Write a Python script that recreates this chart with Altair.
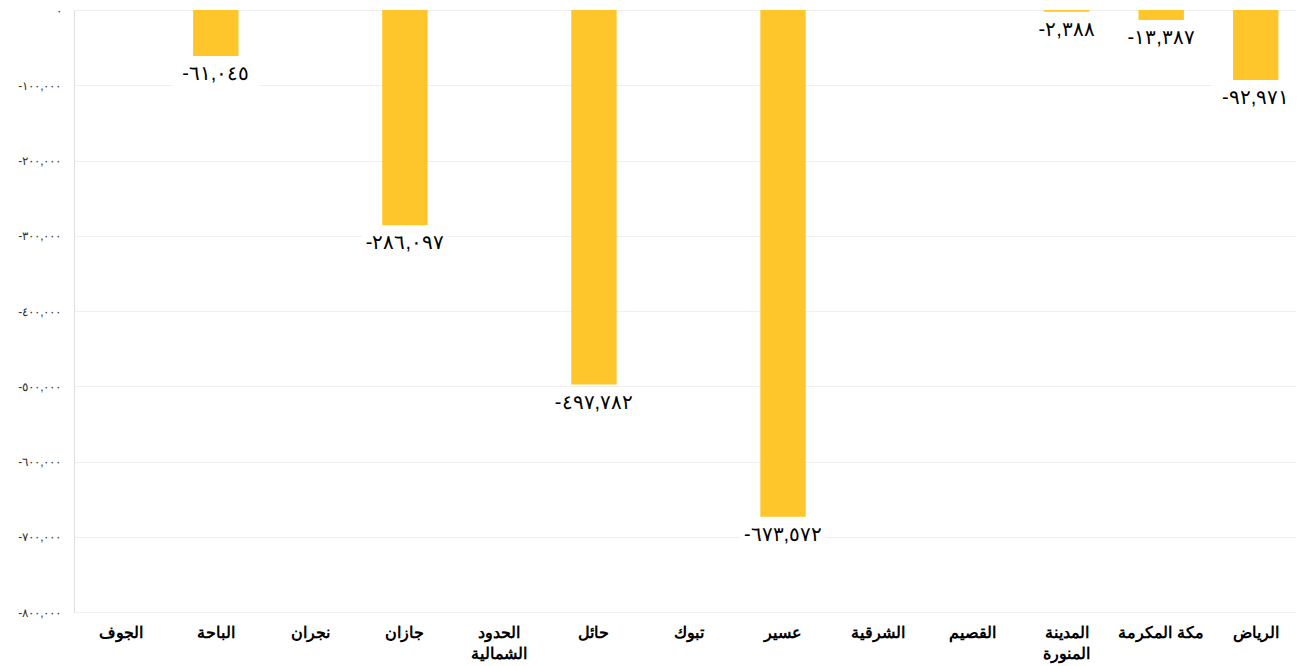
import altair as alt
import pandas as pd

regions = ["الجوف", "الباحة", "نجران", "جازان", "الحدود الشمالية", "حائل", "تبوك",
           "عسير", "الشرقية", "القصيم", "المدينة المنورة", "مكة المكرمة", "الرياض"]
values = [None, -61045, None, -286097, None, -497782, None,
          -673572, None, None, -2388, -13387, -92971]

df = pd.DataFrame({"region": regions, "value": values})

locale = {
    "decimal": "٫",
    "thousands": ",",
    "grouping": [3],
    "currency": ["", ""],
    "minus": "-",
    "numerals": ["٠", "١", "٢", "٣", "٤", "٥", "٦", "٧", "٨", "٩"],
}

label_expr = ("datum.label == 'الحدود الشمالية' ? ['الحدود', 'الشمالية'] : "
              "datum.label == 'المدينة المنورة' ? ['المدينة', 'المنورة'] : datum.label")

x = alt.X("region:N", sort=regions, title=None,
          scale=alt.Scale(paddingInner=0.52, paddingOuter=0.26),
          axis=alt.Axis(labelAngle=0, labelFont="Arial", labelFontSize=16,
                        labelFontWeight="bold", labelColor="#000", labelPadding=12,
                        labelLineHeight=21, ticks=False, domain=False, grid=False,
                        labelExpr=label_expr, labelBaseline="top"))

y = alt.Y("value:Q", title=None,
          scale=alt.Scale(domain=[-800000, 0], nice=False),
          axis=alt.Axis(values=[0, -100000, -200000, -300000, -400000, -500000,
                                -600000, -700000, -800000],
                        format=",d", labelFont="Arial", labelFontSize=12,
                        labelColor="#333", labelPadding=13, ticks=False,
                        domain=True, domainColor="#e0e0e0", gridColor="#efefef"))

base = alt.Chart(df)

bars = base.mark_bar(color="#FEC62B").encode(x=x, y=y)

boxes = base.transform_filter("datum.value != null").mark_tick(
    color="white", opacity=1, thickness=26, size=86, orient="horizontal", yOffset=18
).encode(x=alt.X("region:N", sort=regions), y=alt.Y("value:Q"))

labels = base.transform_filter("datum.value != null").mark_text(
    font="Arial", fontSize=20, color="#000", baseline="middle", dy=18
).encode(x=alt.X("region:N", sort=regions), y=alt.Y("value:Q"),
         text=alt.Text("value:Q", format=",d"))

chart = alt.layer(bars, boxes, labels).properties(
    width=1229, height=602,
    autosize=alt.AutoSizeParams(type="none"),
    padding={"left": 66, "top": 2, "right": -7, "bottom": 54},
).configure_view(stroke="#e0e0e0", strokeWidth=1)

chart.save("out.html", embed_options={"renderer": "svg", "actions": False,
                                      "formatLocale": locale})
